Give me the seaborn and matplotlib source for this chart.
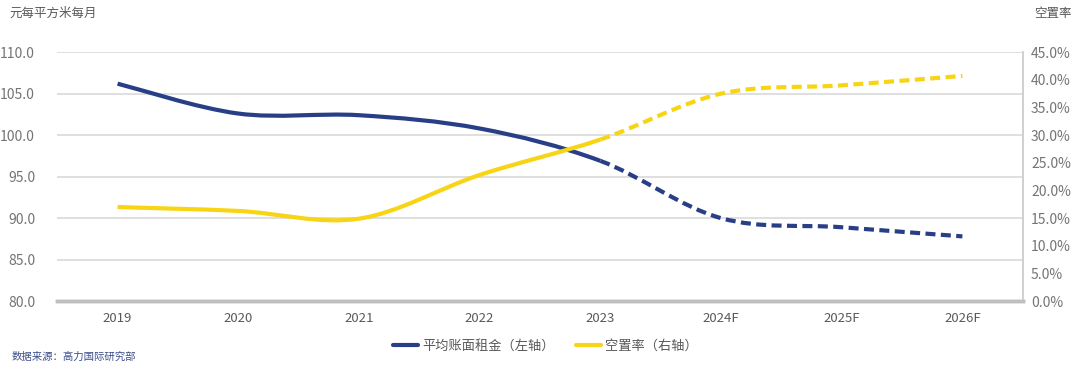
import numpy as np
import pandas as pd
import seaborn as sns
from matplotlib import pyplot as plt
from matplotlib.path import Path
from matplotlib.patches import PathPatch
from matplotlib.lines import Line2D
from matplotlib.ticker import FuncFormatter, MultipleLocator

years = ['2019', '2020', '2021', '2022', '2023', '2024F', '2025F', '2026F']
rent = [106.2, 102.6, 102.4, 100.8, 96.9, 90.0, 88.9, 87.8]        # 平均账面租金 (左轴)
vacancy = [17.0, 16.3, 14.9, 22.8, 29.2, 37.5, 39.0, 40.7]         # 空置率 % (右轴)
n_actual = 5  # 2019-2023 solid, forecasts dashed

BLUE = '#283F87'
YELLOW = '#F7D515'
GREY = '#595959'
TICK = '#747474'

sns.set_theme(style='white')
plt.rcParams['font.family'] = ['Noto Sans CJK SC', 'DejaVu Sans']

df = pd.DataFrame({'year': years, 'pos': np.arange(len(years)),
                   'rent': rent, 'vacancy': vacancy})


def smooth_path(x, y):
    # Catmull-Rom style smoothing expressed as cubic bezier segments
    pts = np.column_stack([x, y]).astype(float)
    ext = np.vstack([pts[0], pts, pts[-1]])
    segs = []
    for i in range(len(pts) - 1):
        p0, p1, p2, p3 = ext[i], ext[i + 1], ext[i + 2], ext[i + 3]
        segs.append((p1, p1 + (p2 - p0) / 6, p2 - (p3 - p1) / 6, p2))
    return segs


def draw_curve(ax, x, y, color, split):
    segs = smooth_path(x, y)
    for part, ls in ((segs[:split - 1], '-'), (segs[split - 1:], (0, (2.4, 1.3)))):
        verts = [part[0][0]]
        codes = [Path.MOVETO]
        for s in part:
            verts += [s[1], s[2], s[3]]
            codes += [Path.CURVE4] * 3
        ax.add_patch(PathPatch(Path(verts, codes), fill=False, edgecolor=color,
                               lw=3.0, linestyle=ls, capstyle='butt'))


fig, ax = plt.subplots(figsize=(10.8, 3.75), dpi=100)
fig.subplots_adjust(left=0.053, right=0.947, bottom=0.197, top=0.861)
ax2 = ax.twinx()

draw_curve(ax, df['pos'], df['rent'], BLUE, n_actual)
draw_curve(ax2, df['pos'], df['vacancy'], YELLOW, n_actual)

ax.set_xlim(-0.5, len(years) - 0.5)
ax.set_ylim(80, 110)
ax2.set_ylim(0, 45)
ax.set_xticks(df['pos'])
ax.set_xticklabels(years)
ax.yaxis.set_major_locator(MultipleLocator(5))
ax.yaxis.set_major_formatter(FuncFormatter(lambda v, p: f'{v:.1f}'))
ax2.yaxis.set_major_locator(MultipleLocator(5))
ax2.yaxis.set_major_formatter(FuncFormatter(lambda v, p: f'{v:.1f}%'))

ax.grid(axis='y', color='#D9D9D9', lw=1.2)
ax.set_axisbelow(True)
for a in (ax, ax2):
    for s in ('top', 'left'):
        a.spines[s].set_visible(False)
    a.spines['bottom'].set_color('#BFBFBF')
    a.spines['bottom'].set_linewidth(2.5)
    a.spines['right'].set_color('#D0D0D0')
    a.spines['right'].set_linewidth(1.2)
ax.tick_params(axis='x', length=0, labelsize=9.5, labelcolor=GREY, pad=8)
ax.tick_params(axis='y', length=0, labelsize=10, labelcolor=TICK, pad=16)
ax2.tick_params(axis='y', length=0, labelsize=10, labelcolor=TICK, pad=6)

fig.text(0.009, 0.965, '元每平方米每月', fontsize=9, color=GREY, va='center')
fig.text(0.957, 0.965, '空置率', fontsize=9, color=GREY, va='center')

handles = [Line2D([], [], color=BLUE, lw=3.0), Line2D([], [], color=YELLOW, lw=3.0)]
fig.legend(handles, ['平均账面租金（左轴）', '空置率（右轴）'], loc='center',
           bbox_to_anchor=(0.505, 0.078), ncol=2, frameon=False, fontsize=9.5,
           handlelength=1.9, handletextpad=0.3, columnspacing=1.6,
           labelcolor=GREY)
fig.text(0.011, 0.05, '数据来源：高力国际研究部', fontsize=7.5, color='#3B4E8C',
         style='italic', va='center')

plt.savefig('out.png', dpi=100)
plt.close()
